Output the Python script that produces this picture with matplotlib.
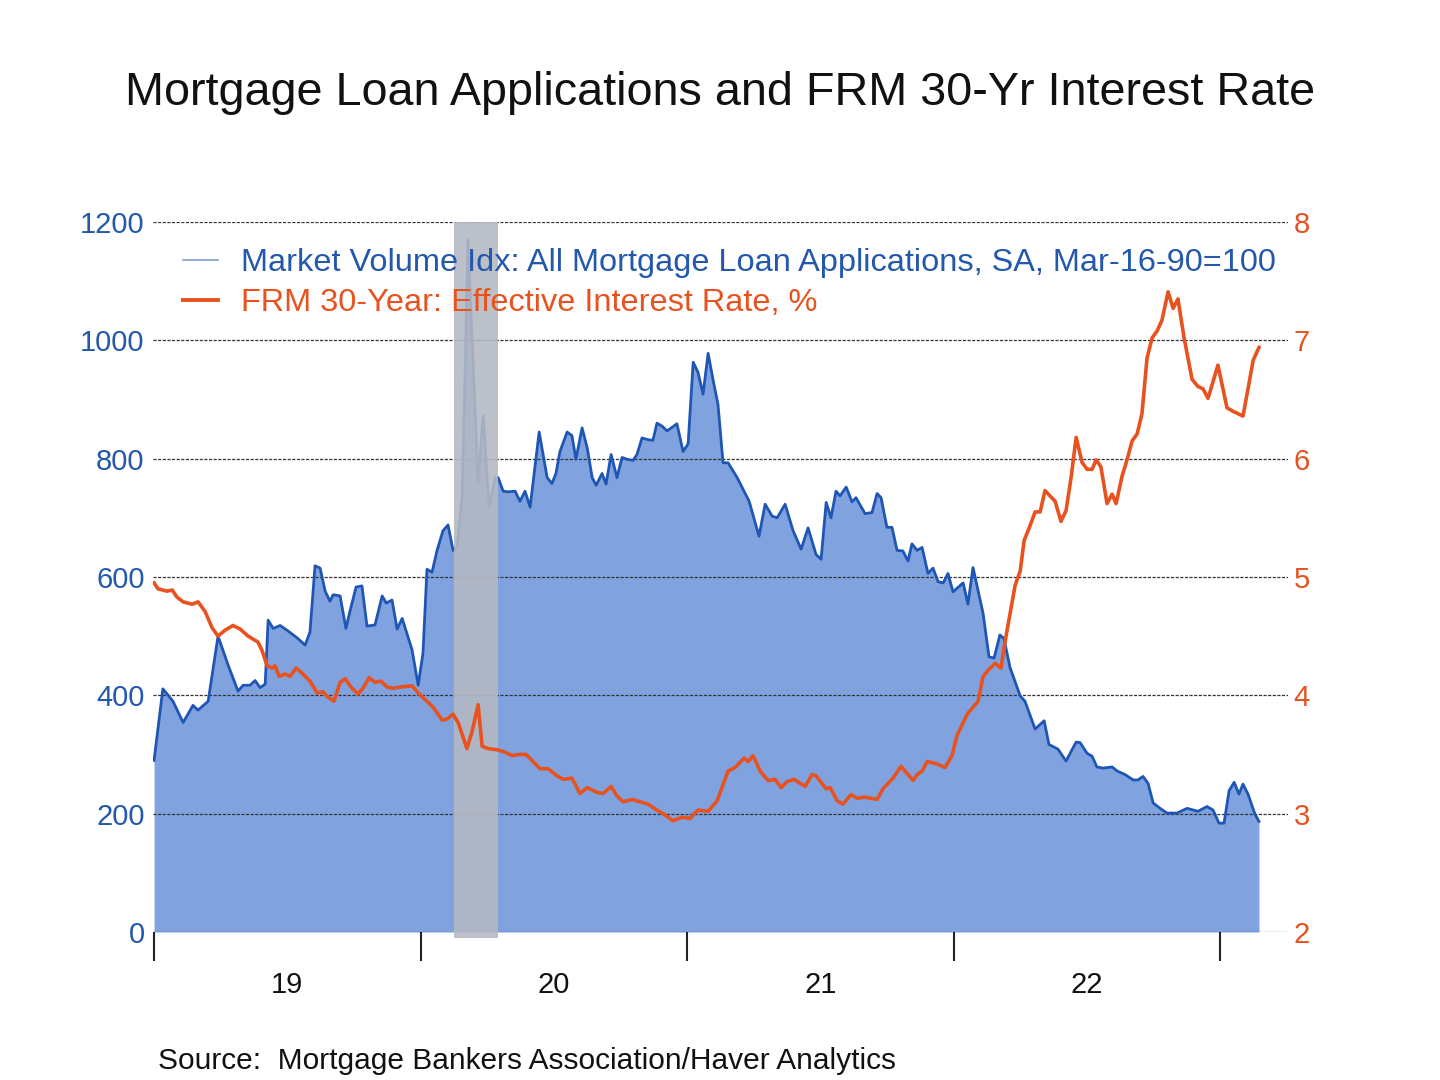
import matplotlib
matplotlib.use("Agg")
import matplotlib.pyplot as plt
from matplotlib.lines import Line2D
from matplotlib.ticker import FixedLocator, NullFormatter, FixedFormatter

plt.rcParams['font.family'] = ['Liberation Sans', 'DejaVu Sans']

# weekly series, x in decimal years
vol_t = [2019.00, 2019.033, 2019.071, 2019.109, 2019.146, 2019.165, 2019.203, 2019.240, 2019.278, 2019.315,
         2019.334, 2019.360, 2019.379, 2019.398, 2019.417, 2019.428, 2019.447, 2019.473, 2019.499, 2019.537,
         2019.567, 2019.585, 2019.604, 2019.623, 2019.642, 2019.660, 2019.672, 2019.698, 2019.720, 2019.735,
         2019.758, 2019.780, 2019.799, 2019.829, 2019.856, 2019.871, 2019.893, 2019.912, 2019.931, 2019.968,
         2019.991, 2020.009, 2020.024, 2020.043, 2020.062, 2020.084, 2020.103, 2020.122, 2020.137, 2020.156,
         2020.167, 2020.178, 2020.193, 2020.216, 2020.235, 2020.257, 2020.280, 2020.291, 2020.310, 2020.328,
         2020.355, 2020.373, 2020.392, 2020.411, 2020.445, 2020.475, 2020.493, 2020.508, 2020.523, 2020.550,
         2020.568, 2020.583, 2020.606, 2020.625, 2020.644, 2020.659, 2020.681, 2020.696, 2020.715, 2020.737,
         2020.756, 2020.775, 2020.797, 2020.812, 2020.831, 2020.854, 2020.872, 2020.887, 2020.906, 2020.925,
         2020.944, 2020.962, 2020.985, 2021.004, 2021.023, 2021.041, 2021.060, 2021.079, 2021.098, 2021.116,
         2021.135, 2021.154, 2021.188, 2021.233, 2021.270, 2021.293, 2021.319, 2021.338, 2021.368, 2021.398,
         2021.428, 2021.454, 2021.484, 2021.503, 2021.522, 2021.540, 2021.559, 2021.574, 2021.597, 2021.619,
         2021.634, 2021.668, 2021.694, 2021.713, 2021.728, 2021.750, 2021.769, 2021.788, 2021.810, 2021.829,
         2021.844, 2021.863, 2021.882, 2021.904, 2021.923, 2021.942, 2021.961, 2021.979, 2021.998, 2022.036,
         2022.054, 2022.073, 2022.111, 2022.133, 2022.152, 2022.174, 2022.189, 2022.212, 2022.250, 2022.268,
         2022.306, 2022.340, 2022.358, 2022.392, 2022.422, 2022.460, 2022.475, 2022.501, 2022.520, 2022.538,
         2022.561, 2022.595, 2022.614, 2022.644, 2022.674, 2022.692, 2022.711, 2022.730, 2022.749, 2022.775,
         2022.801, 2022.839, 2022.876, 2022.917, 2022.951, 2022.974, 2022.996, 2023.015, 2023.034, 2023.053,
         2023.071, 2023.086, 2023.105, 2023.131, 2023.146]
volume = [290, 411, 390, 354, 383, 375, 390, 500, 451, 407,
          417, 417, 425, 413, 419, 527, 513, 518, 510, 497,
          485, 507, 619, 615, 576, 559, 570, 568, 513, 542,
          583, 585, 517, 519, 568, 556, 561, 512, 530, 477,
          417, 471, 613, 608, 645, 678, 688, 645, 651, 738,
          939, 1170, 1006, 762, 872, 718, 768, 768, 745, 744,
          745, 728, 745, 718, 845, 768, 758, 775, 812, 845,
          839, 799, 852, 819, 768, 755, 775, 757, 807, 768,
          802, 799, 797, 807, 835, 832, 831, 860, 855, 847,
          853, 859, 812, 825, 963, 946, 909, 978, 932, 892,
          793, 793, 768, 728, 669, 723, 703, 700, 723, 678,
          647, 683, 638, 630, 726, 700, 745, 737, 752, 727,
          734, 707, 709, 741, 734, 684, 684, 645, 644, 627,
          656, 645, 650, 606, 615, 592, 590, 606, 575, 590,
          554, 616, 538, 465, 463, 502, 496, 447, 399, 390,
          343, 357, 317, 309, 289, 321, 320, 302, 297, 279,
          277, 279, 272, 266, 257, 257, 263, 251, 218, 209,
          201, 201, 209, 204, 212, 206, 184, 184, 239, 253,
          233, 250, 233, 199, 187]

rate_t = [2019.000, 2019.015, 2019.049, 2019.068, 2019.086, 2019.109, 2019.143, 2019.165, 2019.191, 2019.218,
          2019.240, 2019.266, 2019.296, 2019.323, 2019.353, 2019.390, 2019.405, 2019.424, 2019.443, 2019.454,
          2019.469, 2019.492, 2019.510, 2019.533, 2019.559, 2019.585, 2019.612, 2019.634, 2019.649, 2019.675,
          2019.698, 2019.717, 2019.739, 2019.765, 2019.784, 2019.807, 2019.829, 2019.852, 2019.874, 2019.897,
          2019.923, 2019.968, 2019.991, 2020.024, 2020.047, 2020.081, 2020.099, 2020.122, 2020.141, 2020.174,
          2020.193, 2020.216, 2020.231, 2020.253, 2020.287, 2020.317, 2020.343, 2020.366, 2020.396, 2020.418,
          2020.448, 2020.478, 2020.512, 2020.535, 2020.568, 2020.598, 2020.625, 2020.662, 2020.685, 2020.715,
          2020.737, 2020.760, 2020.794, 2020.824, 2020.854, 2020.887, 2020.917, 2020.947, 2020.981, 2021.011,
          2021.041, 2021.079, 2021.113, 2021.154, 2021.180, 2021.214, 2021.229, 2021.248, 2021.274, 2021.304,
          2021.330, 2021.353, 2021.375, 2021.401, 2021.443, 2021.469, 2021.484, 2021.522, 2021.537, 2021.563,
          2021.585, 2021.615, 2021.638, 2021.668, 2021.713, 2021.735, 2021.773, 2021.803, 2021.848, 2021.863,
          2021.882, 2021.901, 2021.938, 2021.968, 2021.994, 2022.013, 2022.051, 2022.092, 2022.111, 2022.133,
          2022.156, 2022.178, 2022.193, 2022.212, 2022.231, 2022.250, 2022.265, 2022.283, 2022.306, 2022.325,
          2022.343, 2022.381, 2022.403, 2022.422, 2022.441, 2022.460, 2022.482, 2022.501, 2022.520, 2022.535,
          2022.553, 2022.576, 2022.595, 2022.610, 2022.632, 2022.651, 2022.670, 2022.689, 2022.707, 2022.726,
          2022.745, 2022.764, 2022.782, 2022.805, 2022.824, 2022.842, 2022.865, 2022.895, 2022.917, 2022.936,
          2022.955, 2022.992, 2023.026, 2023.049, 2023.086, 2023.105, 2023.124, 2023.146]
rate = [4.95, 4.90, 4.88, 4.89, 4.83, 4.79, 4.77, 4.79, 4.71, 4.57,
        4.50, 4.55, 4.59, 4.56, 4.50, 4.45, 4.38, 4.25, 4.23, 4.25,
        4.16, 4.18, 4.16, 4.23, 4.18, 4.12, 4.02, 4.03, 3.99, 3.95,
        4.11, 4.14, 4.07, 4.01, 4.06, 4.15, 4.11, 4.12, 4.07, 4.06,
        4.07, 4.08, 4.02, 3.95, 3.90, 3.79, 3.80, 3.84, 3.77, 3.55,
        3.69, 3.92, 3.57, 3.55, 3.54, 3.52, 3.49, 3.50, 3.50, 3.45,
        3.38, 3.38, 3.32, 3.29, 3.30, 3.17, 3.22, 3.18, 3.17, 3.23,
        3.15, 3.10, 3.12, 3.10, 3.08, 3.03, 2.99, 2.94, 2.97, 2.96,
        3.03, 3.02, 3.11, 3.36, 3.39, 3.47, 3.44, 3.49, 3.36, 3.28,
        3.29, 3.22, 3.27, 3.29, 3.23, 3.33, 3.32, 3.21, 3.22, 3.11,
        3.08, 3.16, 3.13, 3.14, 3.12, 3.21, 3.30, 3.40, 3.28, 3.33,
        3.36, 3.44, 3.42, 3.39, 3.49, 3.66, 3.84, 3.95, 4.16, 4.22,
        4.27, 4.23, 4.45, 4.69, 4.93, 5.05, 5.31, 5.41, 5.55, 5.55,
        5.73, 5.64, 5.47, 5.56, 5.84, 6.18, 5.97, 5.91, 5.91, 5.99,
        5.93, 5.62, 5.70, 5.62, 5.85, 5.99, 6.15, 6.21, 6.38, 6.85,
        7.02, 7.08, 7.17, 7.41, 7.27, 7.35, 7.02, 6.67, 6.61, 6.59,
        6.51, 6.79, 6.43, 6.40, 6.36, 6.59, 6.83, 6.94]

recession = (2020.125, 2020.29)
year_ticks = [2019, 2020, 2021, 2022, 2023]
year_labels = ['19', '20', '21', '22']

blue = '#1f56b4'
fill_blue = '#80a3e0'
orange = '#e8521f'
blue_txt = '#2358ad'

fig = plt.figure(figsize=(14.4, 10.8), dpi=100)
ax = fig.add_axes([0.10625, 0.13704, 0.7882, 0.65741])
ax2 = ax.twinx()

ax.fill_between(vol_t, 0, volume, color=fill_blue, lw=0, zorder=1)
ax.plot(vol_t, volume, color=blue, lw=2, zorder=2)
ax.axvspan(recession[0], recession[1], ymin=-0.009, ymax=1.0, color='#b4b9c4',
           alpha=0.9, lw=0, zorder=3, clip_on=False)

ax2.plot(rate_t, rate, color=orange, lw=2.6, zorder=4)

ax.set_xlim(2018.996, 2023.255)
ax.set_ylim(0, 1200)
ax2.set_ylim(2, 8)
ax.set_yticks(range(0, 1201, 200))
ax2.set_yticks(range(2, 9))

for y in range(0, 1201, 200):
    ax.axhline(y, color='#333333', lw=0.9, ls=(0, (2.5, 1.2)), zorder=1.5)

for a in (ax, ax2):
    for s in a.spines.values():
        s.set_visible(False)

ax.tick_params(axis='y', length=0, pad=6, labelsize=21, labelcolor=blue_txt)
ax2.tick_params(axis='y', length=0, pad=4, labelsize=21, labelcolor=orange)

ax.xaxis.set_major_locator(FixedLocator(year_ticks))
ax.xaxis.set_major_formatter(NullFormatter())
ax.xaxis.set_minor_locator(FixedLocator([y + 0.5 for y in year_ticks[:-1]]))
ax.xaxis.set_minor_formatter(FixedFormatter(year_labels))
ax.tick_params(axis='x', which='major', length=21, width=1.5, color='#222222', pad=0)
ax.tick_params(axis='x', which='minor', length=0, pad=28, labelsize=21, labelcolor='#111111')

handles = [Line2D([], [], color='#7f9fcf', lw=1.2),
           Line2D([], [], color=orange, lw=2.8)]
labels = ['Market Volume Idx: All Mortgage Loan Applications, SA, Mar-16-90=100',
          'FRM 30-Year: Effective Interest Rate, %']
leg = ax2.legend(handles, labels, loc='upper left', bbox_to_anchor=(0.0005, 1.004),
                 frameon=False, fontsize=23.4, handlelength=1.08, handletextpad=0.7,
                 labelspacing=0.3)
leg.get_texts()[0].set_color(blue_txt)
leg.get_texts()[1].set_color(orange)

fig.text(0.5, 0.914, 'Mortgage Loan Applications and FRM 30-Yr Interest Rate',
         ha='center', va='center', fontsize=33.7, color='#111111')
fig.text(0.11, 0.018, 'Source:  Mortgage Bankers Association/Haver Analytics',
         ha='left', va='center', fontsize=21.5, color='#111111')

fig.savefig('out.png', dpi=100)
